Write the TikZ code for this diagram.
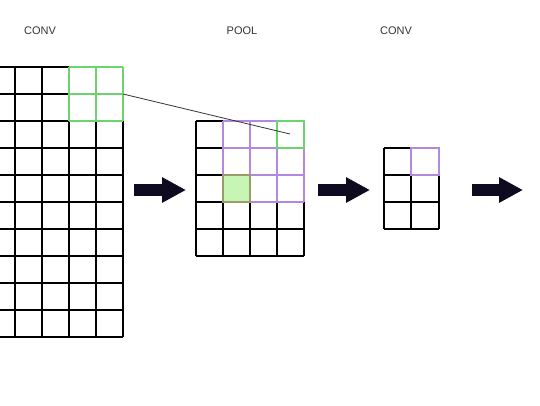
\documentclass[tikz,border=0pt]{standalone}
\usepackage{fontspec}
\setmainfont{Liberation Sans}
\usetikzlibrary{positioning,arrows.meta}

\definecolor{cellgreen}{HTML}{6CD46C}
\definecolor{cellfill}{HTML}{C6F5B4}
\definecolor{cellpurple}{HTML}{B388E0}
\definecolor{celledge}{HTML}{9C9C6A}
\definecolor{arrowdark}{HTML}{0E0B20}
\definecolor{labelgray}{HTML}{333333}

\tikzset{
    gridline/.style={line width=1.3pt, black},
    greenline/.style={line width=1.5pt, cellgreen},
    purpleline/.style={line width=1.5pt, cellpurple},
    layerlabel/.style={font=\fontsize{11}{13}\selectfont, text=labelgray},
    bigarrow/.style={line width=12pt, arrowdark, -{Triangle[length=24pt,width=24pt]}}
}

\begin{document}
\begin{tikzpicture}[x=1pt, y=-1pt]
\useasboundingbox (0,0) rectangle (540,405);
\clip (0,0) rectangle (540,405);

%% Labels
\node[layerlabel] (conv_a) at (40,31) {CONV};
\node[layerlabel] (pool) at (242,31) {POOL};
\node[layerlabel] (conv_b) at (396,31) {CONV};

%% Input grid (5 x 10)
\foreach \i in {0,...,5} \draw[gridline] (-12+27*\i,67) -- ++(0,270);
\foreach \j in {0,...,10} \draw[gridline] (-12,67+27*\j) -- ++(135,0);
\foreach \i in {0,1,2} \draw[greenline] (69+27*\i,67) -- ++(0,54);
\foreach \j in {0,1,2} \draw[greenline] (69,67+27*\j) -- ++(54,0);
\coordinate (win_src) at (123,94);

%% Pool grid (4 x 5)
\fill[cellfill] (223,175) rectangle (250,202);
\foreach \i in {0,...,4} \draw[gridline] (196+27*\i,121) -- ++(0,135);
\foreach \j in {0,...,5} \draw[gridline] (196,121+27*\j) -- ++(108,0);
\foreach \i in {0,...,3} \draw[purpleline] (223+27*\i,121) -- ++(0,81);
\foreach \j in {0,...,3} \draw[purpleline] (223,121+27*\j) -- ++(81,0);
\draw[greenline] (277,121) rectangle (304,148);
\draw[line width=1.5pt, celledge] (223,175) rectangle (250,202);
\coordinate (win_dst) at (290,134);

%% Second conv grid (2 x 3)
\foreach \x in {384,411,439} \draw[gridline] (\x,148) -- ++(0,81);
\foreach \j in {0,...,3} \draw[gridline] (384,148+27*\j) -- ++(55,0);
\draw[purpleline] (411,148) rectangle (439,175);

%% Connector
\draw[line width=0.8pt, black!80] (win_src) -- (win_dst);

%% Arrows
\coordinate (arr_a_s) at (134,190);
\coordinate (arr_a_e) at (186,190);
\coordinate (arr_b_s) at (318,190);
\coordinate (arr_b_e) at (370,190);
\coordinate (arr_c_s) at (472,190);
\coordinate (arr_c_e) at (523,190);
\draw[bigarrow] (arr_a_s) -- (arr_a_e);
\draw[bigarrow] (arr_b_s) -- (arr_b_e);
\draw[bigarrow] (arr_c_s) -- (arr_c_e);
\end{tikzpicture}
\end{document}
